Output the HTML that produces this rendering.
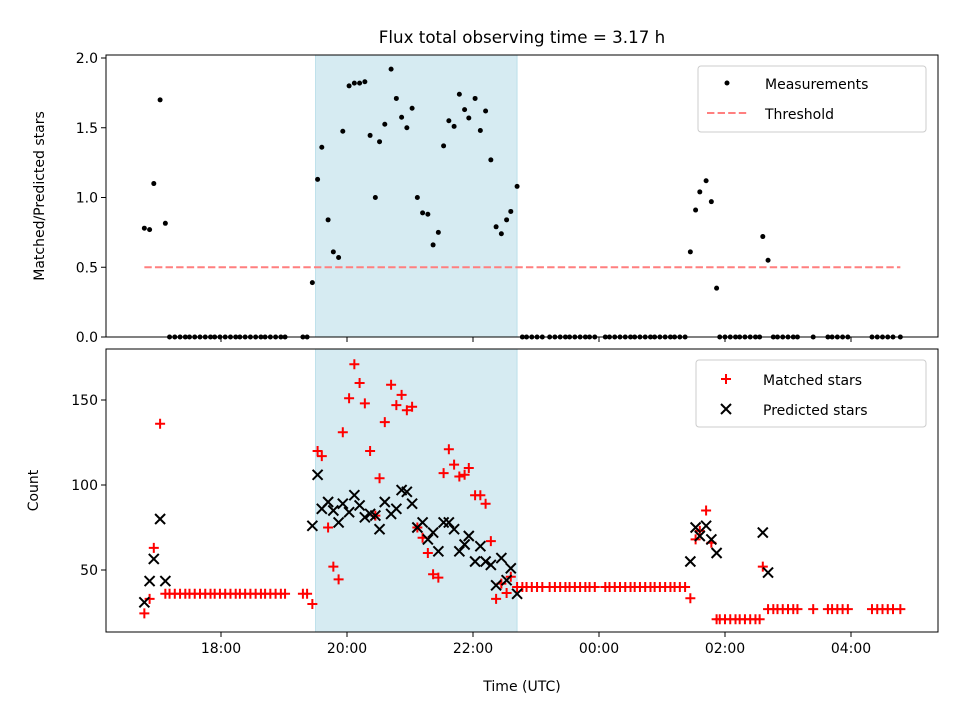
<!DOCTYPE html>
<html><head><meta charset="utf-8"><style>
body{margin:0;background:#fff;}
svg{font-family:"DejaVu Sans","Liberation Sans",sans-serif;}
</style></head><body>
<svg id="chart" width="960" height="720" viewBox="0 0 960 720" xmlns="http://www.w3.org/2000/svg"></svg>
<script>
// minutes since 18:00 UTC
const times=[-73,-68,-64,-58,-53,
-49,-44,-39,-34,-30,-25,-20,-15,-10,-6,-1,4,9,14,18,23,28,33,38,42,47,52,57,61,78,82,
87,92,96,102,107,112,116,122,127,132,137,142,147,151,156,162,167,172,177,182,187,192,197,202,207,212,217,222,227,232,236,242,247,252,257,262,267,272,276,282,
287,291,296,301,306,313,318,323,328,332,337,342,347,351,356,366,370,375,380,385,390,394,399,404,409,413,418,423,428,432,437,442,
447,452,456,462,467,472,
475,480,485,490,494,499,504,509,513,
516,521,
526,530,535,540,545,549,564,578,582,587,592,597,620,625,630,635,640,647];
const ratioValues=[0.78,0.77,1.10,1.70,0.815,
0,0,0,0,0,0,0,0,0,0,0,0,0,0,0,0,0,0,0,0,0,0,0,0,0,0,
0.39,1.13,1.36,0.84,0.61,0.57,1.475,1.80,1.82,1.82,1.83,1.445,1.00,1.40,1.525,1.92,1.71,1.575,1.50,1.64,1.00,0.89,0.88,0.66,0.75,1.37,1.55,1.51,1.74,1.63,1.57,1.71,1.48,1.62,1.27,0.79,0.74,0.84,0.90,1.08,
0,0,0,0,0,0,0,0,0,0,0,0,0,0,0,0,0,0,0,0,0,0,0,0,0,0,0,0,0,0,0,0,
0.61,0.91,1.04,1.12,0.97,0.35,
0,0,0,0,0,0,0,0,0,
0.72,0.55,
0,0,0,0,0,0,0,0,0,0,0,0,0,0,0,0,0,0];
const matchedValues=[24.5,33,63,136,36,
36,36,36,36,36,36,36,36,36,36,36,36,36,36,36,36,36,36,36,36,36,36,36,36,36,36,
30,120,117,75,52,44.5,131,151,171,160,148,120,82,104,137,159,147,153,144,146,75,69,60,47.5,45.5,107,121,112,105,106,110,94,94,89,67,33,42,36.5,46,40,
40,40,40,40,40,40,40,40,40,40,40,40,40,40,40,40,40,40,40,40,40,40,40,40,40,40,40,40,40,40,40,40,
33.4,68,73,85,66,21,
21,21,21,21,21,21,21,21,21,
52,27,
27,27,27,27,27,27,27,27,27,27,27,27,27,27,27,27,27,27];
const predictedValues=[31,43.5,56.5,80,43.5,
null,null,null,null,null,null,null,null,null,null,null,null,null,null,null,null,null,null,null,null,null,null,null,null,null,null,
76,106,86,90,85,78,89,84,94,88,81,83,82,74,90,83,86,97,96,89,75,78,68,72,61,78,78,74,61,65,70,55,64,55,53,41,57,44,51,36,
null,null,null,null,null,null,null,null,null,null,null,null,null,null,null,null,null,null,null,null,null,null,null,null,null,null,null,null,null,null,null,null,
55,75,70,76,68,60,
null,null,null,null,null,null,null,null,null,
72,48.5,
null,null,null,null,null,null,null,null,null,null,null,null,null,null,null,null,null,null];
const xTickMinutes=[0,120,240,360,480,600];
const xTickLabels=["18:00","20:00","22:00","00:00","02:00","04:00"];
const topTicks=[0,0.5,1.0,1.5,2.0];
const topTickLabels=["0.0","0.5","1.0","1.5","2.0"];
const botTicks=[50,100,150];
const threshold=0.5;
const windowStart=90, windowEnd=282;

const NS="http://www.w3.org/2000/svg";
const svg=document.getElementById('chart');
function el(tag,attrs,parent){const e=document.createElementNS(NS,tag);for(const k in attrs)e.setAttribute(k,attrs[k]);(parent||svg).appendChild(e);return e;}
const L=106,R=938;
const xs=m=>221+m*63/60;
const yTop=v=>337-v*139.5;
const yBot=v=>400-(v-150)*1.7;
const T1=55,B1=337,T2=349,B2=632;
const FS=14;

let t=el('text',{x:522,y:43,'text-anchor':'middle','font-size':16.7,fill:'#000'});t.textContent='Flux total observing time = 3.17 h';


[[T1,B1],[T2,B2]].forEach(([a,b],i)=>{
 const r=el('rect',{x:xs(windowStart),y:a,width:xs(windowEnd)-xs(windowStart),height:b-a,fill:'#add8e6','fill-opacity':0.5,stroke:'#add8e6','stroke-opacity':0.7});
 
 
});

let th=el('line',{x1:xs(times[0]),x2:xs(times[times.length-1]),y1:yTop(threshold),y2:yTop(threshold),stroke:'#ff7f7f','stroke-width':2,'stroke-dasharray':'7.4,3.2'});


const gTop=el('g',{});

times.forEach((m,i)=>{
 const c=el('circle',{cx:xs(m),cy:yTop(ratioValues[i]),r:2.5,fill:'#000'},gTop);
 
 
});

const gM=el('g',{});

const gP=el('g',{});

function plus(cx,cy,g,s){return el('path',{d:`M${cx-s} ${cy}H${cx+s}M${cx} ${cy-s}V${cy+s}`,stroke:'#f00','stroke-width':2,fill:'none'},g);}
function cross(cx,cy,g,s){return el('path',{d:`M${cx-s} ${cy-s}L${cx+s} ${cy+s}M${cx-s} ${cy+s}L${cx+s} ${cy-s}`,stroke:'#000','stroke-width':2,fill:'none'},g);}
times.forEach((m,i)=>{
 const p=plus(xs(m),yBot(matchedValues[i]),gM,5);
 
 
});
times.forEach((m,i)=>{
 if(predictedValues[i]===null)return;
 const p=cross(xs(m),yBot(predictedValues[i]),gP,5);
 
 
});

[[T1,B1,'top-axes-frame'],[T2,B2,'bottom-axes-frame']].forEach(([a,b,n])=>{
 const r=el('rect',{x:L,y:a,width:R-L,height:b-a,fill:'none',stroke:'#000','stroke-width':1});
 
});
xTickMinutes.forEach((m,i)=>{
 const x=xs(m);
 el('line',{x1:x,x2:x,y1:B1,y2:B1+5,stroke:'#000'});
 el('line',{x1:x,x2:x,y1:B2,y2:B2+5,stroke:'#000'});
 const tx=el('text',{x:x,y:B2+21,'text-anchor':'middle','font-size':FS});tx.textContent=xTickLabels[i];
 
});
topTicks.forEach((v,i)=>{
 const y=yTop(v);
 el('line',{x1:L-5,x2:L,y1:y,y2:y,stroke:'#000'});
 const tx=el('text',{x:L-8,y:y+5,'text-anchor':'end','font-size':FS});tx.textContent=topTickLabels[i];
 
});
botTicks.forEach(v=>{
 const y=yBot(v);
 el('line',{x1:L-5,x2:L,y1:y,y2:y,stroke:'#000'});
 const tx=el('text',{x:L-8,y:y+5,'text-anchor':'end','font-size':FS});tx.textContent=String(v);
 
});
let a1=el('text',{x:0,y:0,'text-anchor':'middle','font-size':FS,transform:`translate(44,${(T1+B1)/2}) rotate(-90)`});a1.textContent='Matched/Predicted stars';

let a2=el('text',{x:0,y:0,'text-anchor':'middle','font-size':FS,transform:`translate(38,${(T2+B2)/2}) rotate(-90)`});a2.textContent='Count';

let a3=el('text',{x:522,y:691,'text-anchor':'middle','font-size':FS});a3.textContent='Time (UTC)';


const lg1=el('g',{});
el('rect',{x:698,y:66,width:228,height:66,rx:3,fill:'#fff','fill-opacity':0.8,stroke:'#ccc'},lg1);
el('circle',{cx:727,cy:83,r:2.5,fill:'#000'},lg1);
let l1=el('text',{x:765,y:89,'font-size':FS},lg1);l1.textContent='Measurements';
el('line',{x1:707,x2:747,y1:113,y2:113,stroke:'#ff7f7f','stroke-width':2,'stroke-dasharray':'7.4,3.2'},lg1);
let l2=el('text',{x:765,y:119,'font-size':FS},lg1);l2.textContent='Threshold';
const lg2=el('g',{});
el('rect',{x:696,y:360,width:230,height:67,rx:3,fill:'#fff','fill-opacity':0.8,stroke:'#ccc'},lg2);
plus(726,379,lg2,5);
let l3=el('text',{x:763,y:385,'font-size':FS},lg2);l3.textContent='Matched stars';
cross(726,409,lg2,5);
let l4=el('text',{x:763,y:415,'font-size':FS},lg2);l4.textContent='Predicted stars';
</script>
</body></html>
